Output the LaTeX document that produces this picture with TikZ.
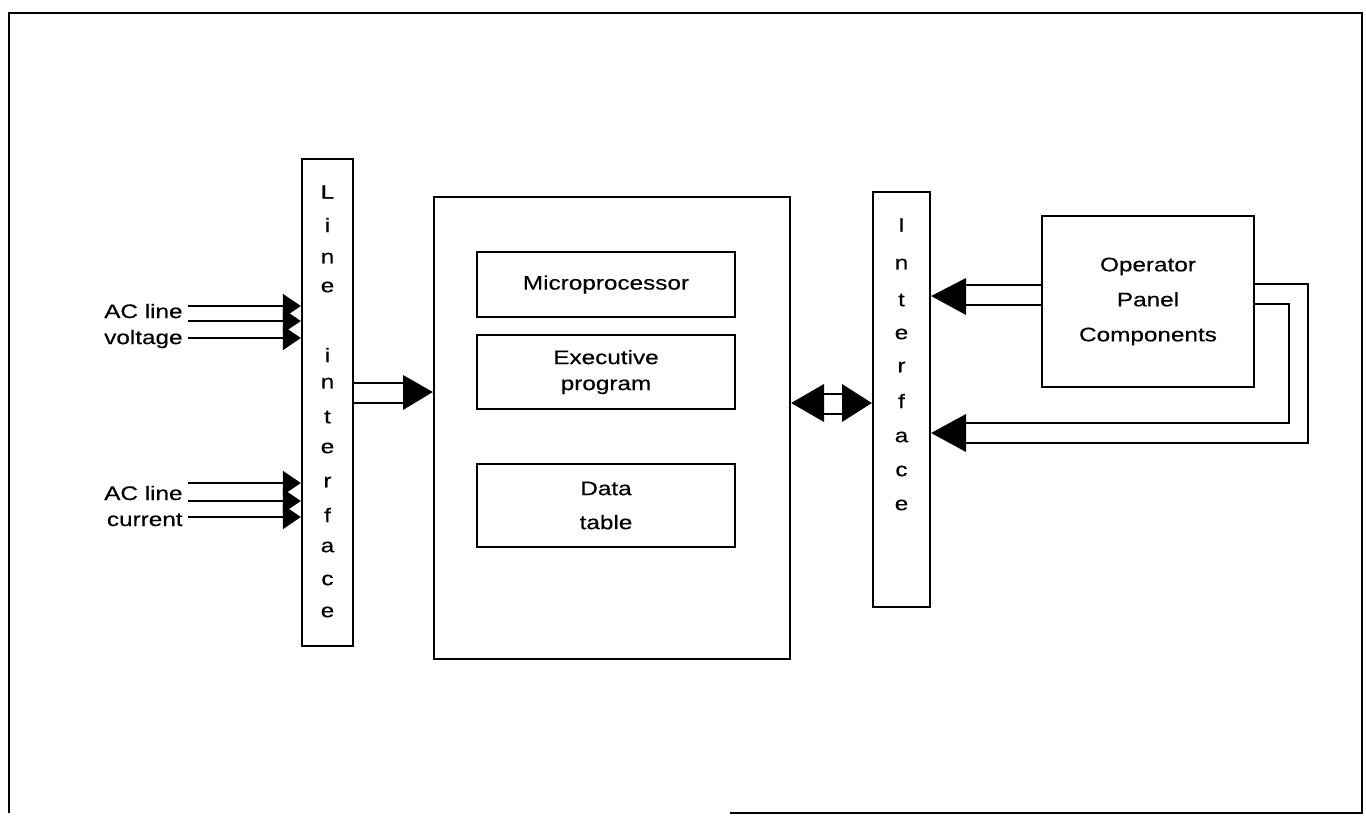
\documentclass[tikz,border=0pt]{standalone}
\usepackage{fontspec}
\setmainfont[FakeStretch=1.24,FakeBold=0.4]{Liberation Sans}
\usetikzlibrary{fit,arrows.meta}
\begin{document}
\begin{tikzpicture}[x=0.5pt,y=-0.5pt,
  box/.style={draw,line width=1.15pt,inner sep=0pt},
  lbl/.style={font=\fontsize{9.8pt}{13pt}\selectfont,inner sep=0pt},
  conn/.style={line width=0.9pt},
  tri/.style={conn,-{Triangle[length=9pt,width=12pt]}},
  frame/.style={line width=1.4pt}]
\useasboundingbox (0,0) rectangle (1366,815);
% outer frame
\draw[frame] (730,813) -- (1362,813) -- (1362,13) -- (9,13) -- (9,813);
% boxes
\node[box,fit={(302,159) (353,646)}] (li) {};
\node[box,fit={(434,197) (790,659)}] (mb) {};
\node[box,fit={(477,252) (735,317)}] (mp) {};
\node[lbl] (mpt) at (mp.center) {Microprocessor};
\node[box,fit={(477,335) (735,409)}] (ex) {};
\node[lbl,align=center] (ext) at (ex.center) {Executive\\program};
\node[box,fit={(477,464) (735,547)}] (dt) {};
\node[lbl,align=center,font=\fontsize{9.8pt}{17pt}\selectfont] (dtt) at (dt.center) {Data\\table};
\node[box,fit={(873,192) (930,607)}] (ri) {};
\node[box,fit={(1042,216) (1254,387)}] (op) {};
\node[lbl,align=center,font=\fontsize{9.8pt}{17.5pt}\selectfont] (opt) at (op.center) {Operator\\Panel\\Components};
% vertical letters
\foreach \l/\y [count=\k] in {L/192,i/225,n/258,e/287,i/355,n/383,t/417,e/448,r/482,f/515,a/547,c/580,e/612}
  \node[lbl] (la\k) at (327.5,\y) {\l};
\foreach \l/\y [count=\k] in {I/225,n/264,t/300,e/334,r/367,f/401,a/437,c/471,e/505}
  \node[lbl] (lb\k) at (901.5,\y) {\l};
% AC inputs
\node[lbl,align=right,anchor=east] (vlab) at (183,326) {AC line\\voltage};
\node[lbl,align=right,anchor=east] (clab) at (183,506) {AC line\\current};
\foreach \y [count=\k] in {306,321,338} {
  \coordinate (v\k) at (188,\y);
  \draw[tri] (v\k) -- (v\k -| li.west);
}
\foreach \y [count=\k] in {483,501,517} {
  \coordinate (c\k) at (188,\y);
  \draw[tri] (c\k) -- (c\k -| li.west);
}
% line interface -> main box
\draw[conn] (li.east |- 0,383) -- (403,383);
\draw[conn] (li.east |- 0,403) -- (403,403);
\fill (403,375) -- (mb.west |- 0,392) -- (403,410) -- cycle;
% main box <-> interface
\fill (mb.east |- 0,403) -- (824,384) -- (824,422) -- cycle;
\draw[conn] (824,394) -- (842,394);
\draw[conn] (824,414) -- (842,414);
\fill (ri.west |- 0,403) -- (842,384) -- (842,422) -- cycle;
% operator -> interface
\draw[conn] (op.west |- 0,285) -- (966,285);
\draw[conn] (op.west |- 0,305) -- (966,305);
\fill (ri.east |- 0,296) -- (966,278) -- (966,315) -- cycle;
% loop
\draw[conn] (op.east |- 0,284) -- (1308,284) -- (1308,443) -- (966,443);
\draw[conn] (op.east |- 0,304) -- (1289,304) -- (1289,423) -- (966,423);
\fill (ri.east |- 0,433) -- (966,414) -- (966,452) -- cycle;
\end{tikzpicture}
\end{document}
